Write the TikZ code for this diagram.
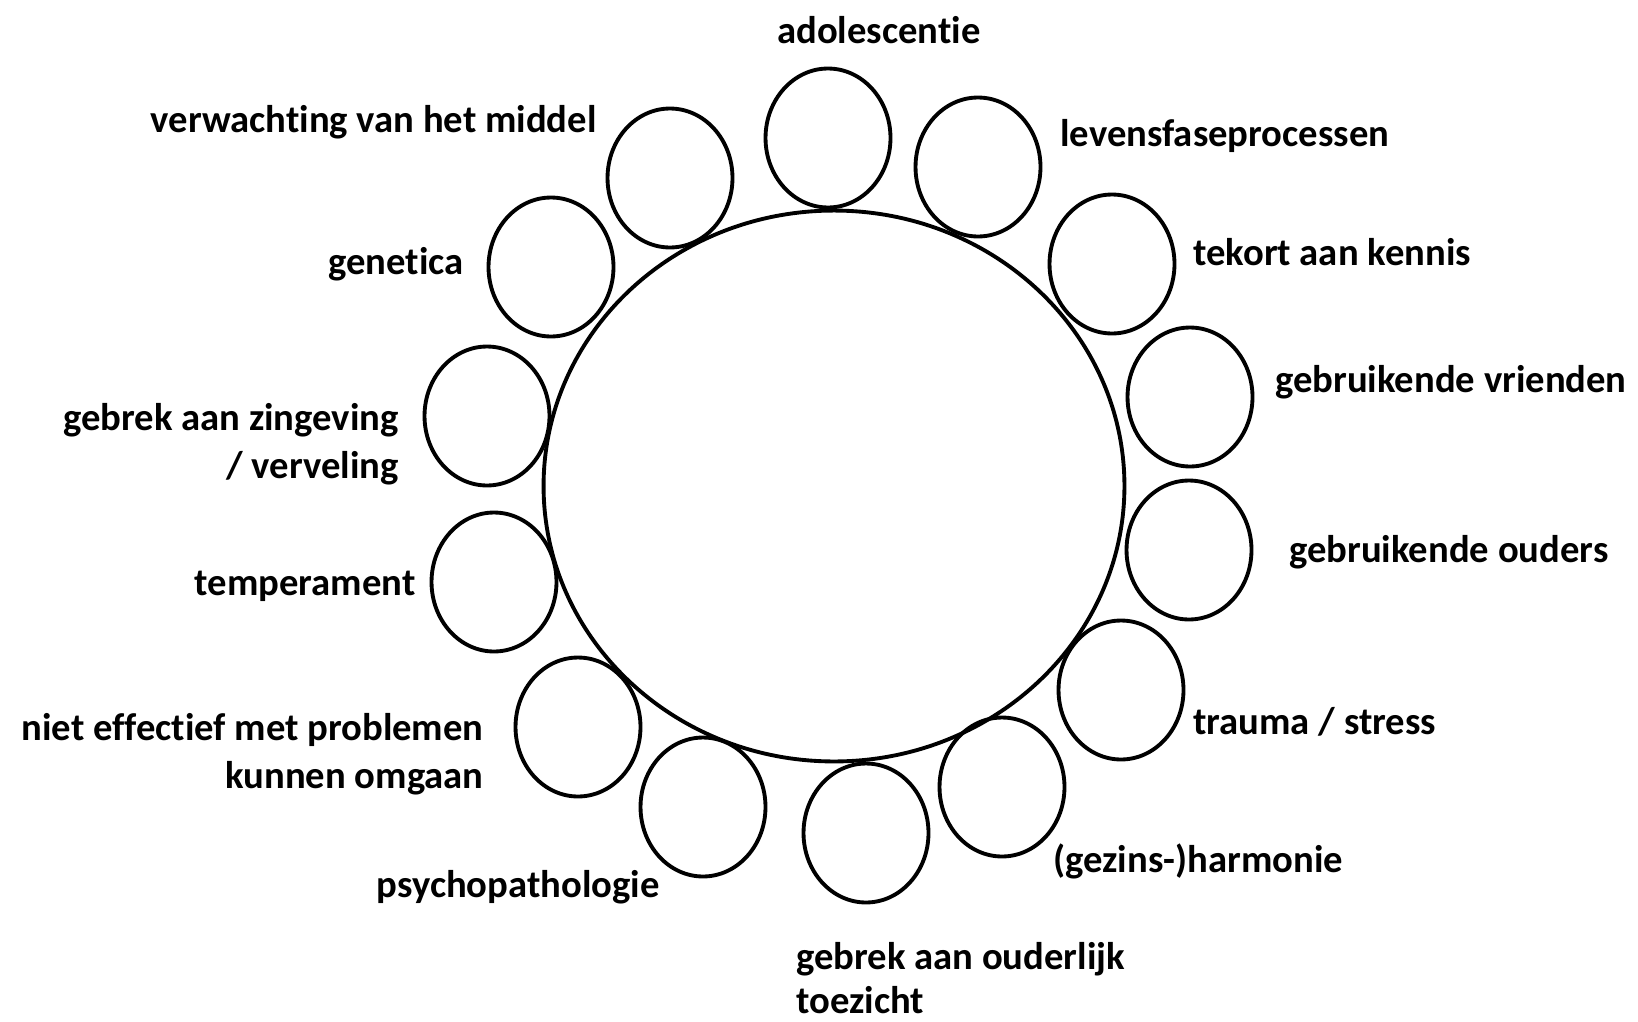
\documentclass[tikz,border=0pt]{standalone}
\usepackage{fontspec}
\setmainfont[RawFeature=-liga]{Carlito}
\usetikzlibrary{shapes.geometric}
\begin{document}
\begin{tikzpicture}[x=0.02cm, y=-0.02cm]
    \tikzstyle{bub}=[draw=black, ellipse, line width=2.2pt, minimum width=2.5cm, minimum height=2.78cm, inner sep=0pt];
    \tikzstyle{lbl}=[font=\fontsize{22}{27}\selectfont\bfseries, inner sep=0pt];
    \useasboundingbox (0,0) rectangle (1638,1021);

    % centre circle
    \node (kern) at (834, 486) [draw=black, ellipse, line width=2.2pt, minimum width=11.62cm, minimum height=11.02cm, inner sep=0pt] {};

    % bubbles round it
	\node (adol) at (828, 138) [bub] {};
	\node (lfase) at (978, 167) [bub] {};
	\node (tekort) at (1112, 264) [bub] {};
	\node (vrien) at (1190, 397) [bub] {};
	\node (ouders) at (1189, 550) [bub] {};
	\node (trauma) at (1121, 690) [bub] {};
	\node (harm) at (1002, 787) [bub] {};
	\node (toez) at (866, 833) [bub] {};
	\node (psych) at (703, 807) [bub] {};
	\node (neff) at (578, 727) [bub] {};
	\node (temp) at (494, 582) [bub] {};
	\node (zing) at (487, 416) [bub] {};
	\node (genet) at (551, 267) [bub] {};
	\node (verw) at (670, 178) [bub] {};

    % labels
	\node (l-adol) at (879, 43) [lbl, anchor=base] {adolescentie};
	\node (l-lfase) at (1060, 146) [lbl, anchor=base west] {levensfaseprocessen};
	\node (l-tekort) at (1193, 265) [lbl, anchor=base west] {tekort aan kennis};
	\node (l-vrien) at (1275, 392) [lbl, anchor=base west] {gebruikende vrienden};
	\node (l-ouders) at (1289, 562) [lbl, anchor=base west] {gebruikende ouders};
	\node (l-trauma) at (1193, 734) [lbl, anchor=base west] {trauma / stress};
	\node (l-harm) at (1053, 872) [lbl, anchor=base west] {(gezins-)harmonie};
	\node (l-toez) at (796, 1013) [lbl, anchor=base west, align=left] {gebrek aan ouderlijk\\[-2pt]toezicht};
	\node (l-psych) at (660, 897) [lbl, anchor=base east] {psychopathologie};
	\node (l-neff) at (484, 788) [lbl, anchor=base east, align=right] {niet effectief met problemen\\kunnen omgaan};
	\node (l-temp) at (416, 595) [lbl, anchor=base east] {temperament};
	\node (l-zing) at (399, 478) [lbl, anchor=base east, align=right] {gebrek aan zingeving\\/ verveling};
	\node (l-genet) at (464, 274) [lbl, anchor=base east] {genetica};
	\node (l-verw) at (597, 132) [lbl, anchor=base east] {verwachting van het middel};
\end{tikzpicture}
\end{document}
